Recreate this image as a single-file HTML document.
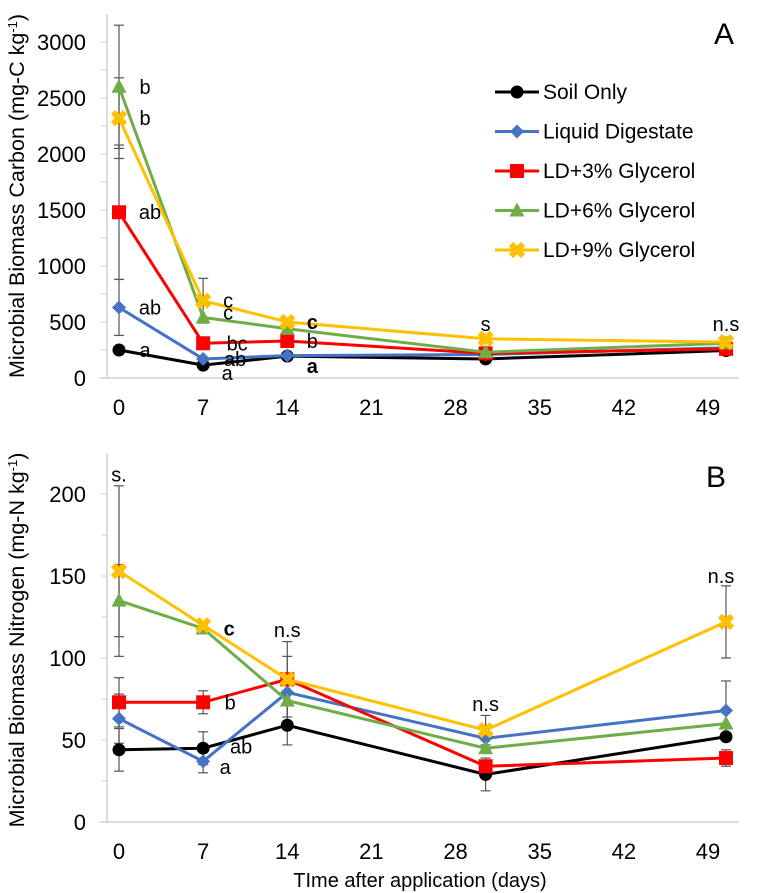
<!DOCTYPE html>
<html><head><meta charset="utf-8"><style>
body{margin:0;background:#fff}
svg{display:block;font-family:"Liberation Sans",Arial,sans-serif}
</style></head><body>
<svg id="chart" width="762" height="893"></svg>
<script>
const days=[0,7,14,30.5,50.5];
const xTicks=[0,7,14,21,28,35,42,49];
const seriesNames=["Soil Only","Liquid Digestate","LD+3% Glycerol","LD+6% Glycerol","LD+9% Glycerol"];
const colors=["#000000","#4472C4","#FF0000","#70AD47","#FFC000"];
const markers=["circle","diamond","square","triangle","cross"];
const carbonSoil=[250,115,195,170,245];
const carbonLD=[630,170,200,210,270];
const carbonLD3=[1480,310,330,220,260];
const carbonLD6=[2600,540,440,230,310];
const carbonLD9=[2320,690,500,350,320];
const carbonErr=[[0,0,0,0,0],[250,0,0,0,0],[600,0,0,0,0],[550,0,0,0,0],[360,200,0,0,0]];
const nitroSoil=[44,45,59,29,52];
const nitroLD=[63,37,79,51,68];
const nitroLD3=[73,73,87,34,39];
const nitroLD6=[135,118,74,45,60];
const nitroLD9=[153,120,87,56,122];
const nitroErr=[[13,10,12,10,0],[15,7,22,0,18],[15,7,0,0,5],[22,0,0,0,0],[52,0,23,9,22]];
const carbonTicks=[0,500,1000,1500,2000,2500,3000];
const nitroTicks=[0,50,100,150,200];
const carbonNotes=[["b",0,2600,26,0,0],["b",0,2320,26,0,0],["ab",0,1480,31,0,0],["ab",0,630,31,0,0],["a",0,250,26,0,0],["c",7,690,25,0,0],["c",7,540,25,-5,0],["bc",7,310,34,0,0],["ab",7,170,32,0,0],["a",7,115,24,8,0],["c",14,500,25,0,1],["b",14,330,25,0,0],["a",14,195,25,10,1],["s",30.5,480,0,0,0],["n.s",50.5,480,0,0,0]];
const nitroNotes=[["s.",0,212,0,0,0],["c",7,118,26,0,1],["n.s",14,117,0,0,0],["b",7,73,27,0,0],["ab",7,46,38,0,0],["a",7,36,22,4,0],["n.s",30.5,72,0,0,0],["n.s",50.5,150,-5,0,0]];

const svg=document.getElementById('chart');
const NS="http://www.w3.org/2000/svg";
function mk(tag,attrs,parent){const e=document.createElementNS(NS,tag);for(const k in attrs)e.setAttribute(k,attrs[k]);(parent||svg).appendChild(e);return e;}
const xS=d=>119+12.02*d;

function panel(p){
  const g=mk('g',{});
  
  
  const yS=v=>p.y0-v*p.k;
  const ya=mk('line',{x1:107,x2:107,y1:p.top,y2:p.y0,stroke:'#d0d0d0','stroke-width':1.5},g);
  
  const xa=mk('line',{x1:100,x2:739,y1:p.y0,y2:p.y0,stroke:'#d0d0d0','stroke-width':1.5},g);
  
  p.ticks.forEach((t,i)=>{
    const tk=mk('text',{x:86,y:yS(t)+8,'text-anchor':'end','font-size':22,fill:'#000'},g);tk.textContent=t;
    
    mk('line',{x1:101,x2:107,y1:yS(t),y2:yS(t),stroke:'#d0d0d0'},g);
    if(i<p.ticks.length-1){const m=(t+p.ticks[i+1])/2;mk('line',{x1:101,x2:107,y1:yS(m),y2:yS(m),stroke:'#d0d0d0'},g);}
  });
  xTicks.forEach(t=>{
    const tk=mk('text',{x:xS(t),y:p.y0+37,'text-anchor':'middle','font-size':22,fill:'#000'},g);tk.textContent=t;
    
  });
  const yt=mk('text',{transform:`translate(24,${p.titleY}) rotate(-90)`,'text-anchor':'middle','font-size':21.5,fill:'#000'},g);
  
  yt.innerHTML=p.title+'<tspan baseline-shift="super" font-size="13">-1</tspan>)';
  const lbl=mk('text',{x:p.lx,y:p.ly,'text-anchor':'middle','font-size':30,fill:'#000'},g);lbl.textContent=p.letter;
  
  p.series.forEach((s,si)=>{
    s.forEach((v,i)=>{const e=p.err[si][i];if(!e)return;const x=xS(days[i]);
      mk('line',{x1:x,x2:x,y1:yS(v-e),y2:yS(v+e),stroke:'#555','stroke-width':1.2},g);
      mk('line',{x1:x-5,x2:x+5,y1:yS(v-e),y2:yS(v-e),stroke:'#555','stroke-width':1.2},g);
      mk('line',{x1:x-5,x2:x+5,y1:yS(v+e),y2:yS(v+e),stroke:'#555','stroke-width':1.2},g);
    });
  });
  p.series.forEach((s,si)=>{
    const pl=mk('polyline',{points:s.map((v,i)=>xS(days[i])+','+yS(v)).join(' '),fill:'none',stroke:colors[si],'stroke-width':3},g);
    
    s.forEach((v,i)=>{const m=marker(markers[si],xS(days[i]),yS(v),colors[si],g);
      });
  });
  p.notes.forEach(n=>{
    const t=mk('text',{x:xS(n[1])+n[3],y:yS(n[2])+7+n[4],'text-anchor':'middle','font-size':20,fill:'#000','font-weight':n[5]?'bold':'normal'},g);
    t.textContent=n[0];
    
  });
}
function marker(type,x,y,c,g){
  if(type==='circle')return mk('circle',{cx:x,cy:y,r:6.5,fill:c},g);
  if(type==='diamond')return mk('polygon',{points:`${x},${y-7} ${x+7},${y} ${x},${y+7} ${x-7},${y}`,fill:c},g);
  if(type==='square')return mk('rect',{x:x-7,y:y-7,width:14,height:14,fill:c},g);
  if(type==='triangle')return mk('polygon',{points:`${x},${y-8} ${x+7.5},${y+6} ${x-7.5},${y+6}`,fill:c},g);
  const gg=mk('g',{},g);
  mk('line',{x1:x-6,y1:y-6,x2:x+6,y2:y+6,stroke:c,'stroke-width':6},gg);
  mk('line',{x1:x-6,y1:y+6,x2:x+6,y2:y-6,stroke:c,'stroke-width':6},gg);
  return gg;
}
panel({name:'panel-a-carbon',y0:378,k:56/500,top:14,ticks:carbonTicks,series:[carbonSoil,carbonLD,carbonLD3,carbonLD6,carbonLD9],err:carbonErr,notes:carbonNotes,title:'Microbial Biomass Carbon (mg-C kg',titleY:196,letter:'A',lx:724,ly:44});
panel({name:'panel-b-nitrogen',y0:822,k:82/50,top:453,ticks:nitroTicks,series:[nitroSoil,nitroLD,nitroLD3,nitroLD6,nitroLD9],err:nitroErr,notes:nitroNotes,title:'Microbial Biomass Nitrogen (mg-N kg',titleY:640,letter:'B',lx:716,ly:487});
const leg=mk('g',{});
seriesNames.forEach((n,i)=>{
  const y=92+i*39.5;
  const e=mk('g',{},leg);
  mk('line',{x1:495,x2:539,y1:y,y2:y,stroke:colors[i],'stroke-width':3},e);
  marker(markers[i],517,y,colors[i],e);
  const t=mk('text',{x:543,y:y+7,'font-size':21,fill:'#000'},e);t.textContent=n;
});
const xt=mk('text',{x:420,y:887,'text-anchor':'middle','font-size':20,fill:'#000'});
xt.textContent='TIme after application (days)';

</script>
</body></html>
